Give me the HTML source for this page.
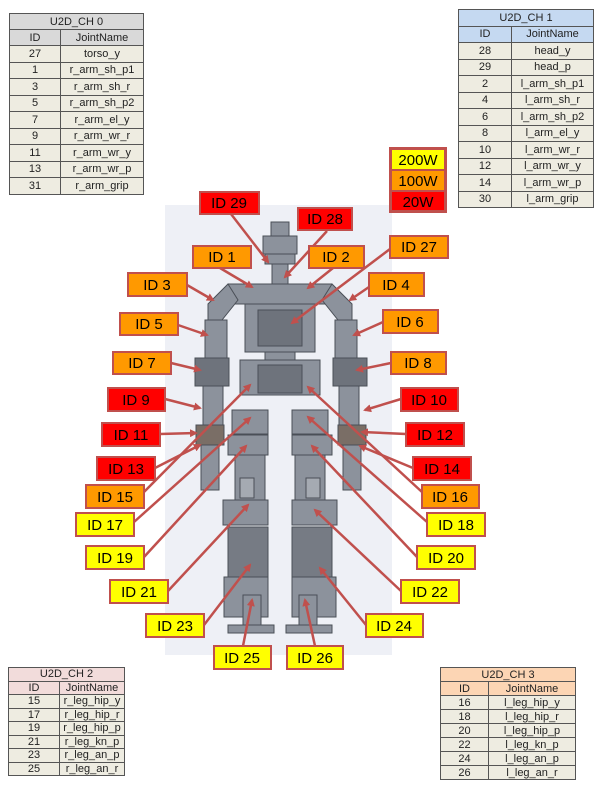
<!DOCTYPE html>
<html><head><meta charset="utf-8"><style>
body{margin:0;background:#fff;width:601px;height:809px;overflow:hidden;position:relative;font-family:"Liberation Sans",sans-serif}
table{position:absolute;border-collapse:collapse;font-size:11px;color:#222}
td{border:1px solid #555;text-align:center;padding:0;background:#eeece1}
td.h{font-weight:normal}
</style></head><body>
<table style="left:9px;top:13px;width:135px">
<tr><td colspan="2" style="background:#d9d9d9;height:15px">U2D_CH 0</td></tr>
<tr><td style="background:#d9d9d9;width:50px;height:15px">ID</td><td style="background:#d9d9d9">JointName</td></tr>
<tr><td style="height:15.5px">27</td><td>torso_y</td></tr>
<tr><td style="height:15.5px">1</td><td>r_arm_sh_p1</td></tr>
<tr><td style="height:15.5px">3</td><td>r_arm_sh_r</td></tr>
<tr><td style="height:15.5px">5</td><td>r_arm_sh_p2</td></tr>
<tr><td style="height:15.5px">7</td><td>r_arm_el_y</td></tr>
<tr><td style="height:15.5px">9</td><td>r_arm_wr_r</td></tr>
<tr><td style="height:15.5px">11</td><td>r_arm_wr_y</td></tr>
<tr><td style="height:15.5px">13</td><td>r_arm_wr_p</td></tr>
<tr><td style="height:15.5px">31</td><td>r_arm_grip</td></tr>
</table>
<table style="left:458px;top:9px;width:136px">
<tr><td colspan="2" style="background:#c5d9f1;height:15.5px">U2D_CH 1</td></tr>
<tr><td style="background:#c5d9f1;width:52px;height:15.5px">ID</td><td style="background:#c5d9f1">JointName</td></tr>
<tr><td style="height:15.5px">28</td><td>head_y</td></tr>
<tr><td style="height:15.5px">29</td><td>head_p</td></tr>
<tr><td style="height:15.5px">2</td><td>l_arm_sh_p1</td></tr>
<tr><td style="height:15.5px">4</td><td>l_arm_sh_r</td></tr>
<tr><td style="height:15.5px">6</td><td>l_arm_sh_p2</td></tr>
<tr><td style="height:15.5px">8</td><td>l_arm_el_y</td></tr>
<tr><td style="height:15.5px">10</td><td>l_arm_wr_r</td></tr>
<tr><td style="height:15.5px">12</td><td>l_arm_wr_y</td></tr>
<tr><td style="height:15.5px">14</td><td>l_arm_wr_p</td></tr>
<tr><td style="height:15.5px">30</td><td>l_arm_grip</td></tr>
</table>
<table style="left:8px;top:667px;width:117px">
<tr><td colspan="2" style="background:#f2dcdb;height:12.5px">U2D_CH 2</td></tr>
<tr><td style="background:#f2dcdb;width:50px;height:12.5px">ID</td><td style="background:#f2dcdb">JointName</td></tr>
<tr><td style="height:12.5px">15</td><td>r_leg_hip_y</td></tr>
<tr><td style="height:12.5px">17</td><td>r_leg_hip_r</td></tr>
<tr><td style="height:12.5px">19</td><td>r_leg_hip_p</td></tr>
<tr><td style="height:12.5px">21</td><td>r_leg_kn_p</td></tr>
<tr><td style="height:12.5px">23</td><td>r_leg_an_p</td></tr>
<tr><td style="height:12.5px">25</td><td>r_leg_an_r</td></tr>
</table>
<table style="left:440px;top:667px;width:136px">
<tr><td colspan="2" style="background:#fcd5b4;height:13px">U2D_CH 3</td></tr>
<tr><td style="background:#fcd5b4;width:47px;height:13px">ID</td><td style="background:#fcd5b4">JointName</td></tr>
<tr><td style="height:13px">16</td><td>l_leg_hip_y</td></tr>
<tr><td style="height:13px">18</td><td>l_leg_hip_r</td></tr>
<tr><td style="height:13px">20</td><td>l_leg_hip_p</td></tr>
<tr><td style="height:13px">22</td><td>l_leg_kn_p</td></tr>
<tr><td style="height:13px">24</td><td>l_leg_an_p</td></tr>
<tr><td style="height:13px">26</td><td>l_leg_an_r</td></tr>
</table>

<svg width="601" height="809" style="position:absolute;left:0;top:0">
<defs><marker id="a" markerWidth="8" markerHeight="8" refX="6" refY="4" orient="auto" markerUnits="userSpaceOnUse" viewBox="0 0 8 8"><path d="M0,0 L8,4 L0,8 z" fill="#c0504d"/></marker></defs>
<rect x="165" y="205" width="227" height="450" fill="#eef0f6"/>
<g fill="#8c929c" stroke="#4a4f57" stroke-width="1">
<rect x="271" y="222" width="18" height="14"/>
<rect x="263" y="236" width="34" height="18"/>
<rect x="265" y="254" width="30" height="10"/>
<rect x="272" y="264" width="16" height="20"/>
<rect x="228" y="284" width="104" height="20"/>
<path d="M228,284 L208,304 L208,320 L222,320 L238,300 z"/>
<path d="M332,284 L352,304 L352,320 L338,320 L322,300 z"/>
<rect x="245" y="304" width="70" height="48"/>
<rect x="258" y="310" width="44" height="36" fill="#6e737c"/>
<rect x="205" y="320" width="22" height="40"/>
<rect x="335" y="320" width="22" height="40"/>
<rect x="195" y="358" width="34" height="28" fill="#6e737c"/>
<rect x="333" y="358" width="34" height="28" fill="#6e737c"/>
<rect x="203" y="386" width="20" height="42"/>
<rect x="339" y="386" width="20" height="42"/>
<rect x="196" y="425" width="28" height="20" fill="#7a6e66"/>
<rect x="338" y="425" width="28" height="20" fill="#7a6e66"/>
<rect x="201" y="445" width="18" height="45"/>
<rect x="343" y="445" width="18" height="45"/>
<rect x="265" y="352" width="30" height="10"/>
<rect x="240" y="360" width="80" height="35"/>
<rect x="258" y="365" width="44" height="28" fill="#6e737c"/>
<rect x="232" y="410" width="36" height="24"/>
<rect x="292" y="410" width="36" height="24"/>
<rect x="228" y="435" width="40" height="20"/>
<rect x="292" y="435" width="40" height="20"/>
<rect x="235" y="455" width="30" height="55"/>
<rect x="295" y="455" width="30" height="55"/>
<rect x="240" y="478" width="14" height="20" fill="#a5aab2"/>
<rect x="306" y="478" width="14" height="20" fill="#a5aab2"/>
<rect x="223" y="500" width="45" height="25"/>
<rect x="292" y="500" width="45" height="25"/>
<rect x="228" y="527" width="40" height="50" fill="#767b84"/>
<rect x="292" y="527" width="40" height="50" fill="#767b84"/>
<rect x="224" y="577" width="44" height="40"/>
<rect x="292" y="577" width="44" height="40"/>
<rect x="243" y="595" width="18" height="30"/>
<rect x="299" y="595" width="18" height="30"/>
<rect x="228" y="625" width="46" height="8"/>
<rect x="286" y="625" width="46" height="8"/>
</g>
<g stroke="#c0504d" stroke-width="2.5" marker-end="url(#a)">
<line x1="231" y1="214" x2="268" y2="262"/>
<line x1="327" y1="231" x2="285" y2="277"/>
<line x1="220" y1="268" x2="252" y2="287"/>
<line x1="333" y1="268" x2="308" y2="288"/>
<line x1="390" y1="249" x2="292" y2="323"/>
<line x1="187" y1="285" x2="213" y2="300"/>
<line x1="369" y1="287" x2="350" y2="300"/>
<line x1="178" y1="325" x2="207" y2="335"/>
<line x1="383" y1="322" x2="354" y2="335"/>
<line x1="171" y1="363" x2="200" y2="370"/>
<line x1="391" y1="363" x2="357" y2="370"/>
<line x1="165" y1="399" x2="200" y2="408"/>
<line x1="401" y1="399" x2="365" y2="410"/>
<line x1="160" y1="434" x2="196" y2="433"/>
<line x1="406" y1="434" x2="362" y2="432"/>
<line x1="155" y1="468" x2="200" y2="445"/>
<line x1="413" y1="468" x2="360" y2="446"/>
<line x1="144" y1="492" x2="250" y2="385"/>
<line x1="422" y1="492" x2="308" y2="387"/>
<line x1="134" y1="522" x2="250" y2="418"/>
<line x1="427" y1="522" x2="308" y2="417"/>
<line x1="144" y1="557" x2="246" y2="446"/>
<line x1="417" y1="557" x2="312" y2="446"/>
<line x1="168" y1="591" x2="248" y2="505"/>
<line x1="401" y1="591" x2="315" y2="510"/>
<line x1="204" y1="625" x2="250" y2="565"/>
<line x1="366" y1="625" x2="320" y2="568"/>
<line x1="243" y1="646" x2="252" y2="600"/>
<line x1="315" y1="646" x2="305" y2="600"/>
</g>
<g stroke="#c0504d" stroke-width="2" font-family="Liberation Sans" font-size="15" text-anchor="middle">
<g fill="#ff0000"><rect x="200" y="192" width="59" height="22"/><rect x="298" y="208" width="54" height="22"/><rect x="108" y="388" width="57" height="23"/><rect x="401" y="388" width="57" height="23"/><rect x="102" y="423" width="58" height="23"/><rect x="406" y="423" width="58" height="23"/><rect x="97" y="457" width="58" height="23"/><rect x="413" y="457" width="58" height="23"/></g>
<g fill="#ff9900"><rect x="193" y="246" width="58" height="22"/><rect x="309" y="246" width="55" height="22"/><rect x="390" y="236" width="58" height="22"/><rect x="128" y="273" width="59" height="23"/><rect x="369" y="273" width="55" height="23"/><rect x="120" y="313" width="58" height="22"/><rect x="383" y="310" width="55" height="23"/><rect x="113" y="352" width="58" height="22"/><rect x="391" y="352" width="55" height="22"/><rect x="86" y="485" width="58" height="23"/><rect x="422" y="485" width="57" height="23"/></g>
<g fill="#ffff00"><rect x="76" y="513" width="58" height="23"/><rect x="427" y="513" width="58" height="23"/><rect x="86" y="546" width="58" height="23"/><rect x="417" y="546" width="58" height="23"/><rect x="110" y="580" width="58" height="23"/><rect x="401" y="580" width="58" height="23"/><rect x="146" y="614" width="58" height="23"/><rect x="366" y="614" width="57" height="23"/><rect x="214" y="646" width="57" height="23"/><rect x="287" y="646" width="56" height="23"/></g>
<rect x="390" y="148" width="56" height="64" fill="#c0504d"/>
<rect x="392" y="150" width="52" height="19" fill="#ffff00" stroke="none"/>
<rect x="392" y="171" width="52" height="19" fill="#ff9900" stroke="none"/>
<rect x="392" y="192" width="52" height="18" fill="#ff0000" stroke="none"/>
<g fill="#000" stroke="none">
<text x="418" y="165">200W</text><text x="418" y="186">100W</text><text x="418" y="207">20W</text>
<text x="229" y="208">ID 29</text><text x="325" y="224">ID 28</text><text x="222" y="262">ID 1</text><text x="336" y="262">ID 2</text><text x="419" y="252">ID 27</text>
<text x="157" y="290">ID 3</text><text x="396" y="290">ID 4</text><text x="149" y="329">ID 5</text><text x="410" y="327">ID 6</text>
<text x="142" y="368">ID 7</text><text x="418" y="368">ID 8</text><text x="136" y="405">ID 9</text><text x="429" y="405">ID 10</text>
<text x="131" y="440">ID 11</text><text x="435" y="440">ID 12</text><text x="126" y="474">ID 13</text><text x="442" y="474">ID 14</text>
<text x="115" y="502">ID 15</text><text x="450" y="502">ID 16</text><text x="105" y="530">ID 17</text><text x="456" y="530">ID 18</text>
<text x="115" y="563">ID 19</text><text x="446" y="563">ID 20</text><text x="139" y="597">ID 21</text><text x="430" y="597">ID 22</text>
<text x="175" y="631">ID 23</text><text x="394" y="631">ID 24</text><text x="242" y="663">ID 25</text><text x="315" y="663">ID 26</text>
</g>
</g>
</svg>
</body></html>
